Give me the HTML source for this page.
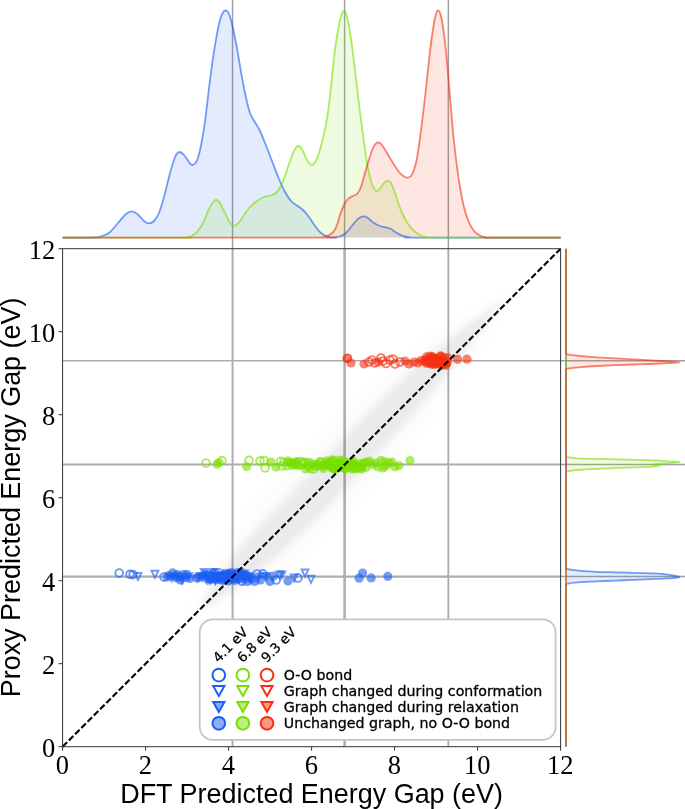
<!DOCTYPE html>
<html><head><meta charset="utf-8"><title>Energy gap parity plot</title><style>html,body{margin:0;padding:0;background:#fff}svg{display:block}</style></head><body>
<svg width="685" height="809" viewBox="0 0 685 809">
<defs><filter id="b1" x="-20%" y="-20%" width="140%" height="140%"><feGaussianBlur stdDeviation="7"/></filter><filter id="b2" x="-20%" y="-20%" width="140%" height="140%"><feGaussianBlur stdDeviation="3.3"/></filter>
<clipPath id="ax"><rect x="62.6" y="248.7" width="498.0" height="498.0"/></clipPath></defs>
<rect width="685" height="809" fill="#fff"/>
<line x1="232.55" y1="0" x2="232.55" y2="248.7" stroke="#a0a0a0" stroke-width="1.5"/>
<line x1="232.55" y1="248.7" x2="232.55" y2="746.7" stroke="#adadad" stroke-width="2.0"/>
<line x1="62.6" y1="576.55" x2="560.6" y2="576.55" stroke="#adadad" stroke-width="2.3"/>
<line x1="560.6" y1="576.55" x2="685" y2="576.55" stroke="#a0a0a0" stroke-width="1.5"/>
<line x1="344.60" y1="0" x2="344.60" y2="248.7" stroke="#a0a0a0" stroke-width="1.5"/>
<line x1="344.60" y1="248.7" x2="344.60" y2="746.7" stroke="#adadad" stroke-width="2.5"/>
<line x1="62.6" y1="464.50" x2="560.6" y2="464.50" stroke="#adadad" stroke-width="2.0"/>
<line x1="560.6" y1="464.50" x2="685" y2="464.50" stroke="#a0a0a0" stroke-width="1.5"/>
<line x1="448.35" y1="0" x2="448.35" y2="248.7" stroke="#a0a0a0" stroke-width="1.5"/>
<line x1="448.35" y1="248.7" x2="448.35" y2="746.7" stroke="#adadad" stroke-width="1.9"/>
<line x1="62.6" y1="360.75" x2="560.6" y2="360.75" stroke="#adadad" stroke-width="1.7"/>
<line x1="560.6" y1="360.75" x2="685" y2="360.75" stroke="#a0a0a0" stroke-width="1.5"/>
<path d="M62.6 237.6C67.2 237.6 84.4 237.6 90.0 237.6C95.6 237.6 94.3 237.5 96.0 237.3C97.7 237.2 98.7 237.0 100.0 236.7C101.3 236.4 102.3 236.2 104.0 235.4C105.7 234.6 107.7 234.1 110.0 232.0C112.3 229.9 115.3 226.0 118.0 223.0C120.7 220.0 123.7 215.9 126.0 214.0C128.3 212.1 130.0 211.3 132.0 211.4C134.0 211.5 136.0 213.0 138.0 214.6C140.0 216.2 142.2 219.5 144.0 221.0C145.8 222.5 147.3 223.4 149.0 223.4C150.7 223.4 152.3 222.7 154.0 221.0C155.7 219.3 157.3 217.0 159.0 213.0C160.7 209.0 162.3 203.0 164.0 197.0C165.7 191.0 167.5 182.7 169.0 177.0C170.5 171.3 171.8 166.7 173.0 163.0C174.2 159.3 174.9 156.8 176.0 155.0C177.1 153.2 178.3 152.0 179.6 152.0C180.9 152.0 182.4 153.3 184.0 155.0C185.6 156.7 187.6 160.3 189.0 162.0C190.4 163.7 191.1 165.2 192.4 165.0C193.7 164.8 195.6 163.8 197.0 160.5C198.4 157.2 199.7 152.0 201.0 145.5C202.3 139.0 203.7 131.1 205.0 121.5C206.3 111.9 207.7 98.6 209.0 88.0C210.3 77.4 211.7 67.0 213.0 58.0C214.3 49.0 215.8 40.3 217.0 34.0C218.2 27.7 219.0 23.6 220.0 20.0C221.0 16.4 222.0 14.0 223.0 12.4C224.0 10.8 225.0 10.1 226.0 10.4C227.0 10.7 228.0 11.7 229.0 14.0C230.0 16.3 231.0 20.0 232.0 24.0C233.0 28.0 234.0 33.0 235.0 38.0C236.0 43.0 237.0 48.3 238.0 54.0C239.0 59.7 240.0 66.3 241.0 72.0C242.0 77.7 243.0 83.0 244.0 88.0C245.0 93.0 246.0 97.8 247.0 102.0C248.0 106.2 248.8 109.8 250.0 113.0C251.2 116.2 252.8 118.5 254.5 121.5C256.2 124.5 258.1 127.0 260.0 131.0C261.9 135.0 264.0 140.5 266.0 145.5C268.0 150.5 269.8 155.4 272.0 161.0C274.2 166.6 276.8 173.8 279.0 179.0C281.2 184.2 283.0 188.3 285.0 192.0C287.0 195.7 289.0 198.7 291.0 201.0C293.0 203.3 295.0 204.1 297.0 205.6C299.0 207.1 301.0 208.1 303.0 210.0C305.0 211.9 307.0 214.3 309.0 217.0C311.0 219.7 313.0 223.3 315.0 226.0C317.0 228.7 319.0 231.3 321.0 233.0C323.0 234.7 324.8 235.7 327.0 236.4C329.2 237.1 331.8 237.3 334.0 237.3C336.2 237.3 338.0 237.1 340.0 236.4C342.0 235.7 344.2 234.6 346.0 233.0C347.8 231.4 349.3 229.0 351.0 227.0C352.7 225.0 354.5 222.6 356.0 221.0C357.5 219.4 358.7 218.4 360.0 217.6C361.3 216.8 362.7 216.3 364.0 216.4C365.3 216.5 366.3 216.9 368.0 218.0C369.7 219.1 372.0 221.7 374.0 223.0C376.0 224.3 377.8 225.2 380.0 226.0C382.2 226.8 385.2 227.1 387.0 227.6C388.8 228.1 389.5 228.2 391.0 229.0C392.5 229.8 394.2 231.3 396.0 232.4C397.8 233.5 399.7 234.8 402.0 235.6C404.3 236.4 407.3 236.9 410.0 237.2C412.7 237.5 392.9 237.5 418.0 237.6C443.1 237.7 536.8 237.6 560.6 237.6Z" fill="#1a5ef2" fill-opacity="0.12" stroke="none"/>
<path d="M62.6 237.6C82.2 237.6 159.4 237.6 180.0 237.6C200.6 237.6 184.3 237.6 186.0 237.4C187.7 237.2 188.8 237.0 190.0 236.6C191.2 236.2 191.8 235.8 193.0 235.0C194.2 234.2 195.3 234.0 197.0 232.0C198.7 230.0 201.0 226.8 203.0 223.0C205.0 219.2 207.3 212.5 209.0 209.0C210.7 205.5 211.7 203.5 213.0 202.0C214.3 200.5 215.4 199.8 216.6 200.0C217.8 200.2 218.6 200.8 220.0 203.0C221.4 205.2 223.3 209.7 225.0 213.0C226.7 216.3 228.5 220.9 230.0 223.0C231.5 225.1 232.7 225.5 234.0 225.6C235.3 225.7 236.3 225.4 238.0 223.6C239.7 221.8 242.0 217.8 244.0 215.0C246.0 212.2 247.8 209.3 250.0 207.0C252.2 204.7 254.7 202.7 257.0 201.0C259.3 199.3 261.7 197.9 264.0 197.0C266.3 196.1 269.0 196.1 271.0 195.4C273.0 194.7 274.3 194.6 276.0 193.0C277.7 191.4 279.3 189.3 281.0 186.0C282.7 182.7 284.3 177.7 286.0 173.0C287.7 168.3 289.5 162.0 291.0 158.0C292.5 154.0 293.8 151.0 295.0 149.0C296.2 147.0 297.2 146.0 298.4 146.0C299.6 146.0 300.6 146.7 302.0 149.0C303.4 151.3 305.3 157.3 307.0 160.0C308.7 162.7 310.3 165.2 312.0 165.0C313.7 164.8 315.5 161.7 317.0 158.5C318.5 155.3 319.7 150.9 321.0 146.0C322.3 141.1 323.8 134.7 325.0 129.0C326.2 123.3 327.0 119.0 328.0 112.0C329.0 105.0 330.0 96.0 331.0 87.0C332.0 78.0 333.0 66.5 334.0 58.0C335.0 49.5 336.0 42.3 337.0 36.0C338.0 29.7 339.1 23.9 340.0 20.0C340.9 16.1 341.7 13.9 342.4 12.4C343.1 10.9 343.4 10.9 344.0 11.0C344.6 11.1 345.2 10.5 346.0 13.0C346.8 15.5 348.0 20.5 349.0 26.0C350.0 31.5 351.0 38.7 352.0 46.0C353.0 53.3 354.0 61.7 355.0 70.0C356.0 78.3 357.0 87.7 358.0 96.0C359.0 104.3 360.0 112.3 361.0 120.0C362.0 127.7 363.2 135.8 364.0 142.0C364.8 148.2 365.2 151.8 366.0 157.0C366.8 162.2 368.0 168.5 369.0 173.0C370.0 177.5 371.0 181.2 372.0 184.0C373.0 186.8 374.2 188.8 375.0 190.0C375.8 191.2 376.2 191.2 377.0 191.0C377.8 190.8 378.8 189.9 380.0 188.6C381.2 187.3 382.7 184.3 384.0 183.0C385.3 181.7 386.4 180.6 387.6 180.6C388.8 180.6 389.8 180.9 391.0 183.0C392.2 185.1 393.7 189.3 395.0 193.0C396.3 196.7 397.7 201.3 399.0 205.0C400.3 208.7 401.5 211.8 403.0 215.0C404.5 218.2 406.2 221.3 408.0 224.0C409.8 226.7 412.0 229.2 414.0 231.0C416.0 232.8 418.0 234.0 420.0 235.0C422.0 236.0 423.7 236.6 426.0 237.0C428.3 237.4 411.6 237.5 434.0 237.6C456.4 237.7 539.5 237.6 560.6 237.6Z" fill="#78e000" fill-opacity="0.12" stroke="none"/>
<path d="M62.6 237.6C104.8 237.6 272.8 237.6 316.0 237.6C359.2 237.6 320.3 237.6 322.0 237.4C323.7 237.2 324.7 237.0 326.0 236.5C327.3 236.0 328.7 235.4 330.0 234.5C331.3 233.6 332.8 232.6 334.0 231.0C335.2 229.4 336.0 227.7 337.0 225.0C338.0 222.3 338.8 218.3 340.0 215.0C341.2 211.7 342.7 207.7 344.0 205.0C345.3 202.3 346.7 200.4 348.0 199.0C349.3 197.6 350.5 197.2 352.0 196.4C353.5 195.6 355.5 195.6 357.0 194.0C358.5 192.4 359.7 190.5 361.0 187.0C362.3 183.5 363.7 177.6 365.0 173.0C366.3 168.4 367.7 163.7 369.0 159.5C370.3 155.3 371.8 150.7 373.0 148.0C374.2 145.3 375.1 144.5 376.0 143.6C376.9 142.7 377.4 142.3 378.4 142.5C379.4 142.7 380.6 143.2 382.0 145.0C383.4 146.8 385.2 150.0 387.0 153.0C388.8 156.0 391.0 159.8 393.0 163.0C395.0 166.2 397.2 169.7 399.0 172.0C400.8 174.3 402.6 175.7 404.0 176.6C405.4 177.5 406.4 177.7 407.6 177.6C408.8 177.5 409.9 177.3 411.0 176.0C412.1 174.7 413.0 173.0 414.0 170.0C415.0 167.0 416.0 163.3 417.0 158.0C418.0 152.7 419.0 145.2 420.0 138.0C421.0 130.8 422.0 122.8 423.0 114.5C424.0 106.2 425.0 97.6 426.0 88.5C427.0 79.4 428.0 68.8 429.0 60.0C430.0 51.2 431.0 43.0 432.0 36.0C433.0 29.0 434.0 22.3 435.0 18.0C436.0 13.7 437.0 10.7 438.0 10.4C439.0 10.1 440.0 12.1 441.0 16.0C442.0 19.9 443.0 26.3 444.0 34.0C445.0 41.7 446.0 51.5 447.0 62.0C448.0 72.5 449.0 85.3 450.0 97.0C451.0 108.7 452.0 121.7 453.0 132.0C454.0 142.3 455.0 150.8 456.0 159.0C457.0 167.2 458.0 174.5 459.0 181.0C460.0 187.5 461.0 193.0 462.0 198.0C463.0 203.0 464.0 207.3 465.0 211.0C466.0 214.7 467.0 217.4 468.0 220.0C469.0 222.6 469.8 224.5 471.0 226.5C472.2 228.5 473.5 230.5 475.0 232.0C476.5 233.5 478.3 234.8 480.0 235.6C481.7 236.4 483.0 236.8 485.0 237.1C487.0 237.4 479.4 237.5 492.0 237.6C504.6 237.7 549.2 237.6 560.6 237.6Z" fill="#f73010" fill-opacity="0.12" stroke="none"/>
<path d="M62.6 237.6C67.2 237.6 84.4 237.6 90.0 237.6C95.6 237.6 94.3 237.5 96.0 237.3C97.7 237.2 98.7 237.0 100.0 236.7C101.3 236.4 102.3 236.2 104.0 235.4C105.7 234.6 107.7 234.1 110.0 232.0C112.3 229.9 115.3 226.0 118.0 223.0C120.7 220.0 123.7 215.9 126.0 214.0C128.3 212.1 130.0 211.3 132.0 211.4C134.0 211.5 136.0 213.0 138.0 214.6C140.0 216.2 142.2 219.5 144.0 221.0C145.8 222.5 147.3 223.4 149.0 223.4C150.7 223.4 152.3 222.7 154.0 221.0C155.7 219.3 157.3 217.0 159.0 213.0C160.7 209.0 162.3 203.0 164.0 197.0C165.7 191.0 167.5 182.7 169.0 177.0C170.5 171.3 171.8 166.7 173.0 163.0C174.2 159.3 174.9 156.8 176.0 155.0C177.1 153.2 178.3 152.0 179.6 152.0C180.9 152.0 182.4 153.3 184.0 155.0C185.6 156.7 187.6 160.3 189.0 162.0C190.4 163.7 191.1 165.2 192.4 165.0C193.7 164.8 195.6 163.8 197.0 160.5C198.4 157.2 199.7 152.0 201.0 145.5C202.3 139.0 203.7 131.1 205.0 121.5C206.3 111.9 207.7 98.6 209.0 88.0C210.3 77.4 211.7 67.0 213.0 58.0C214.3 49.0 215.8 40.3 217.0 34.0C218.2 27.7 219.0 23.6 220.0 20.0C221.0 16.4 222.0 14.0 223.0 12.4C224.0 10.8 225.0 10.1 226.0 10.4C227.0 10.7 228.0 11.7 229.0 14.0C230.0 16.3 231.0 20.0 232.0 24.0C233.0 28.0 234.0 33.0 235.0 38.0C236.0 43.0 237.0 48.3 238.0 54.0C239.0 59.7 240.0 66.3 241.0 72.0C242.0 77.7 243.0 83.0 244.0 88.0C245.0 93.0 246.0 97.8 247.0 102.0C248.0 106.2 248.8 109.8 250.0 113.0C251.2 116.2 252.8 118.5 254.5 121.5C256.2 124.5 258.1 127.0 260.0 131.0C261.9 135.0 264.0 140.5 266.0 145.5C268.0 150.5 269.8 155.4 272.0 161.0C274.2 166.6 276.8 173.8 279.0 179.0C281.2 184.2 283.0 188.3 285.0 192.0C287.0 195.7 289.0 198.7 291.0 201.0C293.0 203.3 295.0 204.1 297.0 205.6C299.0 207.1 301.0 208.1 303.0 210.0C305.0 211.9 307.0 214.3 309.0 217.0C311.0 219.7 313.0 223.3 315.0 226.0C317.0 228.7 319.0 231.3 321.0 233.0C323.0 234.7 324.8 235.7 327.0 236.4C329.2 237.1 331.8 237.3 334.0 237.3C336.2 237.3 338.0 237.1 340.0 236.4C342.0 235.7 344.2 234.6 346.0 233.0C347.8 231.4 349.3 229.0 351.0 227.0C352.7 225.0 354.5 222.6 356.0 221.0C357.5 219.4 358.7 218.4 360.0 217.6C361.3 216.8 362.7 216.3 364.0 216.4C365.3 216.5 366.3 216.9 368.0 218.0C369.7 219.1 372.0 221.7 374.0 223.0C376.0 224.3 377.8 225.2 380.0 226.0C382.2 226.8 385.2 227.1 387.0 227.6C388.8 228.1 389.5 228.2 391.0 229.0C392.5 229.8 394.2 231.3 396.0 232.4C397.8 233.5 399.7 234.8 402.0 235.6C404.3 236.4 407.3 236.9 410.0 237.2C412.7 237.5 392.9 237.5 418.0 237.6C443.1 237.7 536.8 237.6 560.6 237.6" fill="none" stroke="#1a5ef2" stroke-opacity="0.60" stroke-width="1.8" stroke-linejoin="round"/>
<path d="M62.6 237.6C82.2 237.6 159.4 237.6 180.0 237.6C200.6 237.6 184.3 237.6 186.0 237.4C187.7 237.2 188.8 237.0 190.0 236.6C191.2 236.2 191.8 235.8 193.0 235.0C194.2 234.2 195.3 234.0 197.0 232.0C198.7 230.0 201.0 226.8 203.0 223.0C205.0 219.2 207.3 212.5 209.0 209.0C210.7 205.5 211.7 203.5 213.0 202.0C214.3 200.5 215.4 199.8 216.6 200.0C217.8 200.2 218.6 200.8 220.0 203.0C221.4 205.2 223.3 209.7 225.0 213.0C226.7 216.3 228.5 220.9 230.0 223.0C231.5 225.1 232.7 225.5 234.0 225.6C235.3 225.7 236.3 225.4 238.0 223.6C239.7 221.8 242.0 217.8 244.0 215.0C246.0 212.2 247.8 209.3 250.0 207.0C252.2 204.7 254.7 202.7 257.0 201.0C259.3 199.3 261.7 197.9 264.0 197.0C266.3 196.1 269.0 196.1 271.0 195.4C273.0 194.7 274.3 194.6 276.0 193.0C277.7 191.4 279.3 189.3 281.0 186.0C282.7 182.7 284.3 177.7 286.0 173.0C287.7 168.3 289.5 162.0 291.0 158.0C292.5 154.0 293.8 151.0 295.0 149.0C296.2 147.0 297.2 146.0 298.4 146.0C299.6 146.0 300.6 146.7 302.0 149.0C303.4 151.3 305.3 157.3 307.0 160.0C308.7 162.7 310.3 165.2 312.0 165.0C313.7 164.8 315.5 161.7 317.0 158.5C318.5 155.3 319.7 150.9 321.0 146.0C322.3 141.1 323.8 134.7 325.0 129.0C326.2 123.3 327.0 119.0 328.0 112.0C329.0 105.0 330.0 96.0 331.0 87.0C332.0 78.0 333.0 66.5 334.0 58.0C335.0 49.5 336.0 42.3 337.0 36.0C338.0 29.7 339.1 23.9 340.0 20.0C340.9 16.1 341.7 13.9 342.4 12.4C343.1 10.9 343.4 10.9 344.0 11.0C344.6 11.1 345.2 10.5 346.0 13.0C346.8 15.5 348.0 20.5 349.0 26.0C350.0 31.5 351.0 38.7 352.0 46.0C353.0 53.3 354.0 61.7 355.0 70.0C356.0 78.3 357.0 87.7 358.0 96.0C359.0 104.3 360.0 112.3 361.0 120.0C362.0 127.7 363.2 135.8 364.0 142.0C364.8 148.2 365.2 151.8 366.0 157.0C366.8 162.2 368.0 168.5 369.0 173.0C370.0 177.5 371.0 181.2 372.0 184.0C373.0 186.8 374.2 188.8 375.0 190.0C375.8 191.2 376.2 191.2 377.0 191.0C377.8 190.8 378.8 189.9 380.0 188.6C381.2 187.3 382.7 184.3 384.0 183.0C385.3 181.7 386.4 180.6 387.6 180.6C388.8 180.6 389.8 180.9 391.0 183.0C392.2 185.1 393.7 189.3 395.0 193.0C396.3 196.7 397.7 201.3 399.0 205.0C400.3 208.7 401.5 211.8 403.0 215.0C404.5 218.2 406.2 221.3 408.0 224.0C409.8 226.7 412.0 229.2 414.0 231.0C416.0 232.8 418.0 234.0 420.0 235.0C422.0 236.0 423.7 236.6 426.0 237.0C428.3 237.4 411.6 237.5 434.0 237.6C456.4 237.7 539.5 237.6 560.6 237.6" fill="none" stroke="#78e000" stroke-opacity="0.60" stroke-width="1.8" stroke-linejoin="round"/>
<path d="M62.6 237.6C104.8 237.6 272.8 237.6 316.0 237.6C359.2 237.6 320.3 237.6 322.0 237.4C323.7 237.2 324.7 237.0 326.0 236.5C327.3 236.0 328.7 235.4 330.0 234.5C331.3 233.6 332.8 232.6 334.0 231.0C335.2 229.4 336.0 227.7 337.0 225.0C338.0 222.3 338.8 218.3 340.0 215.0C341.2 211.7 342.7 207.7 344.0 205.0C345.3 202.3 346.7 200.4 348.0 199.0C349.3 197.6 350.5 197.2 352.0 196.4C353.5 195.6 355.5 195.6 357.0 194.0C358.5 192.4 359.7 190.5 361.0 187.0C362.3 183.5 363.7 177.6 365.0 173.0C366.3 168.4 367.7 163.7 369.0 159.5C370.3 155.3 371.8 150.7 373.0 148.0C374.2 145.3 375.1 144.5 376.0 143.6C376.9 142.7 377.4 142.3 378.4 142.5C379.4 142.7 380.6 143.2 382.0 145.0C383.4 146.8 385.2 150.0 387.0 153.0C388.8 156.0 391.0 159.8 393.0 163.0C395.0 166.2 397.2 169.7 399.0 172.0C400.8 174.3 402.6 175.7 404.0 176.6C405.4 177.5 406.4 177.7 407.6 177.6C408.8 177.5 409.9 177.3 411.0 176.0C412.1 174.7 413.0 173.0 414.0 170.0C415.0 167.0 416.0 163.3 417.0 158.0C418.0 152.7 419.0 145.2 420.0 138.0C421.0 130.8 422.0 122.8 423.0 114.5C424.0 106.2 425.0 97.6 426.0 88.5C427.0 79.4 428.0 68.8 429.0 60.0C430.0 51.2 431.0 43.0 432.0 36.0C433.0 29.0 434.0 22.3 435.0 18.0C436.0 13.7 437.0 10.7 438.0 10.4C439.0 10.1 440.0 12.1 441.0 16.0C442.0 19.9 443.0 26.3 444.0 34.0C445.0 41.7 446.0 51.5 447.0 62.0C448.0 72.5 449.0 85.3 450.0 97.0C451.0 108.7 452.0 121.7 453.0 132.0C454.0 142.3 455.0 150.8 456.0 159.0C457.0 167.2 458.0 174.5 459.0 181.0C460.0 187.5 461.0 193.0 462.0 198.0C463.0 203.0 464.0 207.3 465.0 211.0C466.0 214.7 467.0 217.4 468.0 220.0C469.0 222.6 469.8 224.5 471.0 226.5C472.2 228.5 473.5 230.5 475.0 232.0C476.5 233.5 478.3 234.8 480.0 235.6C481.7 236.4 483.0 236.8 485.0 237.1C487.0 237.4 479.4 237.5 492.0 237.6C504.6 237.7 549.2 237.6 560.6 237.6" fill="none" stroke="#f73010" stroke-opacity="0.60" stroke-width="1.8" stroke-linejoin="round"/>
<path d="M566.0 746.7 L566.0 589.6C566.0 588.8 565.8 585.6 566.0 584.6C566.2 583.6 565.5 584.0 567.5 583.6C569.5 583.2 573.4 582.7 578.2 582.3C583.0 581.9 590.4 581.7 596.5 581.4C602.6 581.1 608.6 580.9 614.7 580.6C620.8 580.4 626.9 580.1 633.0 579.9C639.1 579.7 646.0 579.4 651.2 579.2C656.4 579.0 660.4 578.8 664.0 578.6C667.6 578.4 670.4 578.3 673.0 578.1C675.6 577.9 679.6 577.7 679.6 577.3C679.6 576.9 675.7 576.0 673.1 575.5C670.5 575.0 667.6 574.6 664.0 574.2C660.4 573.8 656.4 573.5 651.2 573.3C646.0 573.1 639.1 572.9 633.0 572.8C626.9 572.6 620.8 572.5 614.7 572.4C608.6 572.2 602.6 572.2 596.5 571.9C590.4 571.6 583.0 571.0 578.2 570.6C573.4 570.2 569.5 569.6 567.5 569.2C565.5 568.8 566.2 569.2 566.0 568.2C565.8 567.2 566.0 564.0 566.0 563.2L566.0 248.7Z" fill="#1a5ef2" fill-opacity="0.12" stroke="none"/>
<path d="M566.0 746.7 L566.0 477.4C566.0 476.6 565.8 473.4 566.0 472.4C566.2 471.4 565.5 471.7 567.5 471.3C569.5 470.9 573.2 470.4 578.0 470.0C582.8 469.6 587.3 469.3 596.5 468.9C605.7 468.5 623.9 467.8 633.0 467.4C642.1 467.0 646.8 467.0 651.2 466.7C655.6 466.4 658.6 465.9 659.5 465.6C660.4 465.3 657.4 465.1 656.5 464.9C655.6 464.7 652.5 464.6 654.0 464.3C655.5 464.0 661.5 463.7 665.8 463.3C670.0 462.9 680.5 462.4 679.5 462.0C678.5 461.6 667.8 461.1 660.0 460.7C652.2 460.3 643.6 460.1 633.0 459.8C622.4 459.5 605.7 459.1 596.5 458.9C587.3 458.6 582.8 458.6 578.0 458.3C573.2 458.0 569.5 457.5 567.5 457.1C565.5 456.7 566.2 457.0 566.0 456.0C565.8 455.0 566.0 451.8 566.0 451.0L566.0 248.7Z" fill="#78e000" fill-opacity="0.12" stroke="none"/>
<path d="M566.0 746.7 L566.0 374.6C566.0 373.8 565.8 370.6 566.0 369.6C566.2 368.6 566.0 368.9 567.5 368.6C569.0 368.3 570.2 368.0 575.0 367.6C579.8 367.2 586.8 366.5 596.5 366.0C606.2 365.5 622.4 364.9 633.0 364.5C643.6 364.1 652.2 363.9 660.0 363.5C667.8 363.1 679.5 362.8 679.5 362.4C679.5 361.9 667.8 361.3 660.0 360.8C652.2 360.3 643.6 359.9 633.0 359.3C622.4 358.7 606.2 358.0 596.5 357.4C586.8 356.8 579.8 355.9 575.0 355.4C570.2 354.9 569.0 354.8 567.5 354.4C566.0 354.0 566.2 354.2 566.0 353.2C565.8 352.2 566.0 349.0 566.0 348.2L566.0 248.7Z" fill="#f73010" fill-opacity="0.12" stroke="none"/>
<path d="M566.0 746.7 L566.0 589.6C566.0 588.8 565.8 585.6 566.0 584.6C566.2 583.6 565.5 584.0 567.5 583.6C569.5 583.2 573.4 582.7 578.2 582.3C583.0 581.9 590.4 581.7 596.5 581.4C602.6 581.1 608.6 580.9 614.7 580.6C620.8 580.4 626.9 580.1 633.0 579.9C639.1 579.7 646.0 579.4 651.2 579.2C656.4 579.0 660.4 578.8 664.0 578.6C667.6 578.4 670.4 578.3 673.0 578.1C675.6 577.9 679.6 577.7 679.6 577.3C679.6 576.9 675.7 576.0 673.1 575.5C670.5 575.0 667.6 574.6 664.0 574.2C660.4 573.8 656.4 573.5 651.2 573.3C646.0 573.1 639.1 572.9 633.0 572.8C626.9 572.6 620.8 572.5 614.7 572.4C608.6 572.2 602.6 572.2 596.5 571.9C590.4 571.6 583.0 571.0 578.2 570.6C573.4 570.2 569.5 569.6 567.5 569.2C565.5 568.8 566.2 569.2 566.0 568.2C565.8 567.2 566.0 564.0 566.0 563.2L566.0 248.7" fill="none" stroke="#1a5ef2" stroke-opacity="0.60" stroke-width="1.8" stroke-linejoin="round"/>
<path d="M566.0 746.7 L566.0 477.4C566.0 476.6 565.8 473.4 566.0 472.4C566.2 471.4 565.5 471.7 567.5 471.3C569.5 470.9 573.2 470.4 578.0 470.0C582.8 469.6 587.3 469.3 596.5 468.9C605.7 468.5 623.9 467.8 633.0 467.4C642.1 467.0 646.8 467.0 651.2 466.7C655.6 466.4 658.6 465.9 659.5 465.6C660.4 465.3 657.4 465.1 656.5 464.9C655.6 464.7 652.5 464.6 654.0 464.3C655.5 464.0 661.5 463.7 665.8 463.3C670.0 462.9 680.5 462.4 679.5 462.0C678.5 461.6 667.8 461.1 660.0 460.7C652.2 460.3 643.6 460.1 633.0 459.8C622.4 459.5 605.7 459.1 596.5 458.9C587.3 458.6 582.8 458.6 578.0 458.3C573.2 458.0 569.5 457.5 567.5 457.1C565.5 456.7 566.2 457.0 566.0 456.0C565.8 455.0 566.0 451.8 566.0 451.0L566.0 248.7" fill="none" stroke="#78e000" stroke-opacity="0.60" stroke-width="1.8" stroke-linejoin="round"/>
<path d="M566.0 746.7 L566.0 374.6C566.0 373.8 565.8 370.6 566.0 369.6C566.2 368.6 566.0 368.9 567.5 368.6C569.0 368.3 570.2 368.0 575.0 367.6C579.8 367.2 586.8 366.5 596.5 366.0C606.2 365.5 622.4 364.9 633.0 364.5C643.6 364.1 652.2 363.9 660.0 363.5C667.8 363.1 679.5 362.8 679.5 362.4C679.5 361.9 667.8 361.3 660.0 360.8C652.2 360.3 643.6 359.9 633.0 359.3C622.4 358.7 606.2 358.0 596.5 357.4C586.8 356.8 579.8 355.9 575.0 355.4C570.2 354.9 569.0 354.8 567.5 354.4C566.0 354.0 566.2 354.2 566.0 353.2C565.8 352.2 566.0 349.0 566.0 348.2L566.0 248.7" fill="none" stroke="#f73010" stroke-opacity="0.60" stroke-width="1.8" stroke-linejoin="round"/>
<g clip-path="url(#ax)">
<path d="M187.1 622.2C190.5 615.9 201.7 595.3 207.2 584.2C212.8 573.2 213.8 567.3 220.6 556.1C227.3 544.8 236.6 530.6 247.8 516.9C259.0 503.2 274.4 488.2 287.8 473.9C301.3 459.7 314.6 445.3 328.3 431.4C342.0 417.4 355.7 403.5 370.2 390.3C384.7 377.1 401.8 362.4 415.1 352.2C428.4 342.0 439.1 336.1 450.1 329.1C461.1 322.1 470.0 317.1 480.9 310.1C491.9 303.1 510.1 290.9 515.9 287.0C521.7 283.2 519.8 281.2 515.9 287.0C512.1 292.8 499.8 311.0 492.8 322.0C485.8 333.0 480.9 341.9 473.8 352.8C466.8 363.8 460.6 374.2 450.7 387.8C440.9 401.5 427.2 419.7 414.8 434.9C402.3 450.0 389.0 464.5 375.8 478.9C362.6 493.3 349.3 507.7 335.4 521.5C321.5 535.2 306.1 550.3 292.4 561.5C278.7 572.7 264.5 582.0 253.2 588.7C242.0 595.5 236.1 596.5 225.1 602.1C214.0 607.6 193.4 618.8 187.1 622.2C180.8 625.6 187.1 622.2 187.1 622.2Z" fill="#000" fill-opacity="0.014" filter="url(#b1)"/>
<path d="M199.5 609.8C201.5 606.2 206.6 596.1 211.4 588.4C216.2 580.7 220.4 573.9 228.2 563.7C236.0 553.5 246.4 540.4 258.2 527.3C270.0 514.2 285.4 499.2 298.9 485.0C312.5 470.9 325.8 456.5 339.4 442.5C353.0 428.4 366.6 414.4 380.6 400.7C394.6 387.0 410.9 371.5 423.4 360.5C435.9 349.5 445.6 342.6 455.6 334.6C465.7 326.7 475.7 318.8 483.7 312.9C491.7 307.0 500.2 301.7 503.5 299.5C506.8 297.2 505.7 296.2 503.5 299.5C501.2 302.8 495.9 311.3 490.0 319.2C484.2 327.2 476.2 337.3 468.3 347.3C460.4 357.4 453.1 366.7 442.4 379.5C431.8 392.4 417.3 409.7 404.4 424.5C391.4 439.2 378.1 453.5 364.7 467.8C351.4 482.1 338.1 496.5 324.3 510.4C310.5 524.2 295.1 539.3 282.0 551.1C268.9 562.9 255.8 573.3 245.6 581.1C235.4 588.9 228.6 593.1 220.9 597.9C213.2 602.7 203.1 607.8 199.5 609.8C196.0 611.7 199.5 609.8 199.5 609.8Z" fill="#000" fill-opacity="0.064" filter="url(#b2)"/>
</g>
<g clip-path="url(#ax)">
<circle cx="119.2" cy="573.0" r="3.85" fill="none" stroke="#1a5ef2" stroke-width="1.9" stroke-opacity="0.64"/>
<circle cx="130.0" cy="574.4" r="3.85" fill="none" stroke="#1a5ef2" stroke-width="1.9" stroke-opacity="0.64"/>
<circle cx="133.0" cy="574.6" r="3.85" fill="none" stroke="#1a5ef2" stroke-width="1.9" stroke-opacity="0.64"/>
<polygon points="134.6,573.0 141.4,573.0 138.0,580.0" fill="none" stroke="#1a5ef2" stroke-width="1.9" stroke-opacity="0.64"/>
<polygon points="151.5,570.8 158.3,570.8 154.9,577.8" fill="none" stroke="#1a5ef2" stroke-width="1.9" stroke-opacity="0.64"/>
<circle cx="164.0" cy="577.0" r="3.85" fill="none" stroke="#1a5ef2" stroke-width="1.9" stroke-opacity="0.64"/>
<polygon points="277.1,570.6 286.9,570.6 282.0,580.5" fill="#1a5ef2" fill-opacity="0.6"/>
<circle cx="288.0" cy="581.0" r="4.6" fill="#1a5ef2" fill-opacity="0.6"/>
<polygon points="290.6,574.5 297.4,574.5 294.0,581.5" fill="none" stroke="#1a5ef2" stroke-width="1.9" stroke-opacity="0.64"/>
<circle cx="298.0" cy="578.0" r="3.85" fill="none" stroke="#1a5ef2" stroke-width="1.9" stroke-opacity="0.64"/>
<polygon points="301.6,569.5 308.4,569.5 305.0,576.5" fill="none" stroke="#1a5ef2" stroke-width="1.9" stroke-opacity="0.64"/>
<polygon points="307.6,575.8 314.4,575.8 311.0,582.8" fill="none" stroke="#1a5ef2" stroke-width="1.9" stroke-opacity="0.64"/>
<circle cx="359.1" cy="578.2" r="4.6" fill="#1a5ef2" fill-opacity="0.6"/>
<circle cx="362.6" cy="573.1" r="4.6" fill="#1a5ef2" fill-opacity="0.6"/>
<circle cx="371.2" cy="577.9" r="4.6" fill="#1a5ef2" fill-opacity="0.6"/>
<circle cx="387.8" cy="576.4" r="4.6" fill="#1a5ef2" fill-opacity="0.6"/>
<circle cx="176.1" cy="577.7" r="4.6" fill="#1a5ef2" fill-opacity="0.6"/>
<polygon points="166.6,573.5 176.4,573.5 171.5,583.4" fill="#1a5ef2" fill-opacity="0.6"/>
<circle cx="189.7" cy="578.4" r="4.6" fill="#1a5ef2" fill-opacity="0.6"/>
<circle cx="180.3" cy="580.1" r="4.6" fill="#1a5ef2" fill-opacity="0.6"/>
<circle cx="174.8" cy="575.9" r="4.6" fill="#1a5ef2" fill-opacity="0.6"/>
<circle cx="179.3" cy="576.6" r="4.6" fill="#1a5ef2" fill-opacity="0.6"/>
<circle cx="168.9" cy="575.6" r="4.6" fill="#1a5ef2" fill-opacity="0.6"/>
<circle cx="186.8" cy="574.3" r="4.6" fill="#1a5ef2" fill-opacity="0.6"/>
<circle cx="177.3" cy="574.7" r="4.6" fill="#1a5ef2" fill-opacity="0.6"/>
<circle cx="184.8" cy="577.5" r="4.6" fill="#1a5ef2" fill-opacity="0.6"/>
<circle cx="166.9" cy="577.0" r="4.6" fill="#1a5ef2" fill-opacity="0.6"/>
<polygon points="177.3,576.0 187.1,576.0 182.2,585.9" fill="#1a5ef2" fill-opacity="0.6"/>
<polygon points="184.0,572.2 193.8,572.2 188.9,582.1" fill="#1a5ef2" fill-opacity="0.6"/>
<circle cx="183.3" cy="574.6" r="4.6" fill="#1a5ef2" fill-opacity="0.6"/>
<circle cx="172.6" cy="572.9" r="4.6" fill="#1a5ef2" fill-opacity="0.6"/>
<circle cx="238.9" cy="579.1" r="4.6" fill="#1a5ef2" fill-opacity="0.6"/>
<polygon points="225.8,569.9 235.6,569.9 230.7,579.8" fill="#1a5ef2" fill-opacity="0.6"/>
<polygon points="219.5,570.8 229.3,570.8 224.4,580.7" fill="#1a5ef2" fill-opacity="0.6"/>
<circle cx="234.2" cy="574.3" r="3.85" fill="none" stroke="#1a5ef2" stroke-width="1.9" stroke-opacity="0.64"/>
<circle cx="227.7" cy="575.1" r="4.6" fill="#1a5ef2" fill-opacity="0.6"/>
<polygon points="211.2,572.9 218.0,572.9 214.6,579.8" fill="none" stroke="#1a5ef2" stroke-width="1.9" stroke-opacity="0.64"/>
<polygon points="194.8,572.3 204.6,572.3 199.7,582.2" fill="#1a5ef2" fill-opacity="0.6"/>
<circle cx="223.9" cy="580.4" r="4.6" fill="#1a5ef2" fill-opacity="0.6"/>
<circle cx="220.7" cy="579.6" r="3.85" fill="none" stroke="#1a5ef2" stroke-width="1.9" stroke-opacity="0.64"/>
<circle cx="226.5" cy="578.7" r="4.6" fill="#1a5ef2" fill-opacity="0.6"/>
<circle cx="247.6" cy="581.4" r="4.6" fill="#1a5ef2" fill-opacity="0.6"/>
<circle cx="237.8" cy="572.4" r="4.6" fill="#1a5ef2" fill-opacity="0.6"/>
<polygon points="196.1,572.4 205.9,572.4 201.0,582.3" fill="#1a5ef2" fill-opacity="0.6"/>
<polygon points="197.2,572.9 207.0,572.9 202.1,582.8" fill="#1a5ef2" fill-opacity="0.6"/>
<polygon points="220.0,572.6 226.8,572.6 223.4,579.5" fill="none" stroke="#1a5ef2" stroke-width="1.9" stroke-opacity="0.64"/>
<polygon points="201.3,569.9 211.1,569.9 206.2,579.8" fill="#1a5ef2" fill-opacity="0.6"/>
<polygon points="209.5,569.2 216.3,569.2 212.9,576.1" fill="none" stroke="#1a5ef2" stroke-width="1.9" stroke-opacity="0.64"/>
<circle cx="196.7" cy="577.9" r="4.6" fill="#1a5ef2" fill-opacity="0.6"/>
<polygon points="203.9,571.5 213.7,571.5 208.8,581.4" fill="#1a5ef2" fill-opacity="0.6"/>
<polygon points="238.0,575.7 247.8,575.7 242.9,585.6" fill="#1a5ef2" fill-opacity="0.6"/>
<polygon points="220.4,569.1 230.2,569.1 225.3,579.0" fill="#1a5ef2" fill-opacity="0.6"/>
<polygon points="244.3,573.3 254.1,573.3 249.2,583.2" fill="#1a5ef2" fill-opacity="0.6"/>
<circle cx="218.5" cy="578.1" r="4.6" fill="#1a5ef2" fill-opacity="0.6"/>
<polygon points="204.7,576.2 214.5,576.2 209.6,586.1" fill="#1a5ef2" fill-opacity="0.6"/>
<polygon points="200.4,574.0 210.2,574.0 205.3,583.9" fill="#1a5ef2" fill-opacity="0.6"/>
<circle cx="219.3" cy="577.8" r="4.6" fill="#1a5ef2" fill-opacity="0.6"/>
<circle cx="241.4" cy="572.4" r="4.6" fill="#1a5ef2" fill-opacity="0.6"/>
<polygon points="212.1,573.6 221.9,573.6 217.0,583.5" fill="#1a5ef2" fill-opacity="0.6"/>
<circle cx="219.6" cy="577.2" r="4.6" fill="#1a5ef2" fill-opacity="0.6"/>
<circle cx="217.4" cy="577.6" r="4.6" fill="#1a5ef2" fill-opacity="0.6"/>
<circle cx="227.0" cy="576.2" r="3.85" fill="none" stroke="#1a5ef2" stroke-width="1.9" stroke-opacity="0.64"/>
<circle cx="222.8" cy="575.4" r="4.6" fill="#1a5ef2" fill-opacity="0.6"/>
<polygon points="238.7,571.3 248.5,571.3 243.6,581.2" fill="#1a5ef2" fill-opacity="0.6"/>
<circle cx="245.8" cy="578.0" r="4.6" fill="#1a5ef2" fill-opacity="0.6"/>
<polygon points="239.5,569.4 249.3,569.4 244.4,579.3" fill="#1a5ef2" fill-opacity="0.6"/>
<circle cx="242.1" cy="581.3" r="3.85" fill="none" stroke="#1a5ef2" stroke-width="1.9" stroke-opacity="0.64"/>
<polygon points="212.5,569.0 219.3,569.0 215.9,575.9" fill="none" stroke="#1a5ef2" stroke-width="1.9" stroke-opacity="0.64"/>
<circle cx="232.5" cy="577.7" r="4.6" fill="#1a5ef2" fill-opacity="0.6"/>
<circle cx="229.9" cy="579.7" r="4.6" fill="#1a5ef2" fill-opacity="0.6"/>
<circle cx="241.0" cy="575.2" r="4.6" fill="#1a5ef2" fill-opacity="0.6"/>
<circle cx="234.8" cy="580.5" r="4.6" fill="#1a5ef2" fill-opacity="0.6"/>
<polygon points="198.5,572.0 208.3,572.0 203.4,581.9" fill="#1a5ef2" fill-opacity="0.6"/>
<circle cx="225.8" cy="578.2" r="3.85" fill="none" stroke="#1a5ef2" stroke-width="1.9" stroke-opacity="0.64"/>
<circle cx="246.7" cy="575.2" r="4.6" fill="#1a5ef2" fill-opacity="0.6"/>
<circle cx="230.3" cy="574.8" r="4.6" fill="#1a5ef2" fill-opacity="0.6"/>
<circle cx="231.4" cy="572.5" r="4.6" fill="#1a5ef2" fill-opacity="0.6"/>
<polygon points="218.9,574.3 225.7,574.3 222.3,581.2" fill="none" stroke="#1a5ef2" stroke-width="1.9" stroke-opacity="0.64"/>
<circle cx="233.2" cy="578.9" r="4.6" fill="#1a5ef2" fill-opacity="0.6"/>
<polygon points="202.2,575.9 212.0,575.9 207.1,585.8" fill="#1a5ef2" fill-opacity="0.6"/>
<circle cx="216.2" cy="579.6" r="4.6" fill="#1a5ef2" fill-opacity="0.6"/>
<circle cx="233.7" cy="576.7" r="4.6" fill="#1a5ef2" fill-opacity="0.6"/>
<circle cx="210.1" cy="579.0" r="4.6" fill="#1a5ef2" fill-opacity="0.6"/>
<polygon points="192.8,573.9 202.6,573.9 197.7,583.8" fill="#1a5ef2" fill-opacity="0.6"/>
<polygon points="216.7,571.7 226.5,571.7 221.6,581.6" fill="#1a5ef2" fill-opacity="0.6"/>
<circle cx="238.4" cy="574.3" r="4.6" fill="#1a5ef2" fill-opacity="0.6"/>
<polygon points="241.7,574.7 248.5,574.7 245.1,581.6" fill="none" stroke="#1a5ef2" stroke-width="1.9" stroke-opacity="0.64"/>
<circle cx="231.9" cy="576.5" r="4.6" fill="#1a5ef2" fill-opacity="0.6"/>
<circle cx="220.1" cy="577.7" r="4.6" fill="#1a5ef2" fill-opacity="0.6"/>
<polygon points="208.9,572.6 215.7,572.6 212.3,579.5" fill="none" stroke="#1a5ef2" stroke-width="1.9" stroke-opacity="0.64"/>
<polygon points="236.1,575.3 242.9,575.3 239.5,582.2" fill="none" stroke="#1a5ef2" stroke-width="1.9" stroke-opacity="0.64"/>
<polygon points="211.8,577.5 218.6,577.5 215.2,584.4" fill="none" stroke="#1a5ef2" stroke-width="1.9" stroke-opacity="0.64"/>
<circle cx="228.8" cy="573.9" r="4.6" fill="#1a5ef2" fill-opacity="0.6"/>
<polygon points="199.2,568.0 209.0,568.0 204.1,577.9" fill="#1a5ef2" fill-opacity="0.6"/>
<circle cx="213.7" cy="573.7" r="4.6" fill="#1a5ef2" fill-opacity="0.6"/>
<circle cx="207.8" cy="576.6" r="4.6" fill="#1a5ef2" fill-opacity="0.6"/>
<polygon points="221.3,573.9 228.1,573.9 224.7,580.8" fill="none" stroke="#1a5ef2" stroke-width="1.9" stroke-opacity="0.64"/>
<circle cx="240.0" cy="575.2" r="4.6" fill="#1a5ef2" fill-opacity="0.6"/>
<circle cx="236.6" cy="578.0" r="4.6" fill="#1a5ef2" fill-opacity="0.6"/>
<polygon points="230.5,572.6 240.3,572.6 235.4,582.5" fill="#1a5ef2" fill-opacity="0.6"/>
<circle cx="237.2" cy="577.2" r="4.6" fill="#1a5ef2" fill-opacity="0.6"/>
<circle cx="210.9" cy="578.9" r="4.6" fill="#1a5ef2" fill-opacity="0.6"/>
<polygon points="207.9,576.2 214.7,576.2 211.3,583.1" fill="none" stroke="#1a5ef2" stroke-width="1.9" stroke-opacity="0.64"/>
<polygon points="230.8,572.3 240.6,572.3 235.7,582.2" fill="#1a5ef2" fill-opacity="0.6"/>
<circle cx="228.2" cy="580.9" r="3.85" fill="none" stroke="#1a5ef2" stroke-width="1.9" stroke-opacity="0.64"/>
<circle cx="227.2" cy="578.0" r="3.85" fill="none" stroke="#1a5ef2" stroke-width="1.9" stroke-opacity="0.64"/>
<circle cx="221.4" cy="576.7" r="3.85" fill="none" stroke="#1a5ef2" stroke-width="1.9" stroke-opacity="0.64"/>
<polygon points="209.3,574.2 219.1,574.2 214.2,584.1" fill="#1a5ef2" fill-opacity="0.6"/>
<circle cx="229.4" cy="575.1" r="4.6" fill="#1a5ef2" fill-opacity="0.6"/>
<polygon points="243.7,572.1 253.5,572.1 248.6,582.0" fill="#1a5ef2" fill-opacity="0.6"/>
<circle cx="218.0" cy="576.2" r="3.85" fill="none" stroke="#1a5ef2" stroke-width="1.9" stroke-opacity="0.64"/>
<circle cx="270.0" cy="581.4" r="4.6" fill="#1a5ef2" fill-opacity="0.6"/>
<circle cx="276.2" cy="580.0" r="3.85" fill="none" stroke="#1a5ef2" stroke-width="1.9" stroke-opacity="0.64"/>
<polygon points="254.0,572.8 263.8,572.8 258.9,582.7" fill="#1a5ef2" fill-opacity="0.6"/>
<polygon points="261.6,572.5 271.4,572.5 266.5,582.4" fill="#1a5ef2" fill-opacity="0.6"/>
<polygon points="245.6,575.4 255.4,575.4 250.5,585.3" fill="#1a5ef2" fill-opacity="0.6"/>
<polygon points="276.3,571.5 283.1,571.5 279.7,578.4" fill="none" stroke="#1a5ef2" stroke-width="1.9" stroke-opacity="0.64"/>
<circle cx="257.0" cy="574.0" r="3.85" fill="none" stroke="#1a5ef2" stroke-width="1.9" stroke-opacity="0.64"/>
<circle cx="273.4" cy="576.2" r="4.6" fill="#1a5ef2" fill-opacity="0.6"/>
<circle cx="252.3" cy="578.6" r="4.6" fill="#1a5ef2" fill-opacity="0.6"/>
<circle cx="260.4" cy="580.1" r="4.6" fill="#1a5ef2" fill-opacity="0.6"/>
<circle cx="262.8" cy="573.9" r="3.85" fill="none" stroke="#1a5ef2" stroke-width="1.9" stroke-opacity="0.64"/>
<circle cx="254.7" cy="581.4" r="4.6" fill="#1a5ef2" fill-opacity="0.6"/>
<polygon points="260.4,571.9 270.2,571.9 265.3,581.8" fill="#1a5ef2" fill-opacity="0.6"/>
<circle cx="206.0" cy="463.0" r="3.85" fill="none" stroke="#78e000" stroke-width="1.9" stroke-opacity="0.64"/>
<circle cx="217.0" cy="464.2" r="4.6" fill="#78e000" fill-opacity="0.6"/>
<circle cx="219.0" cy="462.5" r="4.6" fill="#78e000" fill-opacity="0.6"/>
<circle cx="222.0" cy="460.6" r="3.85" fill="none" stroke="#78e000" stroke-width="1.9" stroke-opacity="0.64"/>
<circle cx="246.6" cy="466.6" r="4.6" fill="#78e000" fill-opacity="0.6"/>
<circle cx="249.0" cy="460.4" r="3.85" fill="none" stroke="#78e000" stroke-width="1.9" stroke-opacity="0.64"/>
<circle cx="260.0" cy="461.0" r="3.85" fill="none" stroke="#78e000" stroke-width="1.9" stroke-opacity="0.64"/>
<circle cx="264.0" cy="460.5" r="3.85" fill="none" stroke="#78e000" stroke-width="1.9" stroke-opacity="0.64"/>
<circle cx="265.0" cy="468.0" r="3.85" fill="none" stroke="#78e000" stroke-width="1.9" stroke-opacity="0.64"/>
<circle cx="271.0" cy="462.0" r="4.6" fill="#78e000" fill-opacity="0.6"/>
<circle cx="276.0" cy="467.0" r="4.6" fill="#78e000" fill-opacity="0.6"/>
<circle cx="372.4" cy="464.4" r="4.6" fill="#78e000" fill-opacity="0.6"/>
<circle cx="376.0" cy="463.0" r="4.6" fill="#78e000" fill-opacity="0.6"/>
<circle cx="386.0" cy="466.0" r="4.6" fill="#78e000" fill-opacity="0.6"/>
<circle cx="392.0" cy="462.0" r="4.6" fill="#78e000" fill-opacity="0.6"/>
<circle cx="378.0" cy="467.0" r="4.6" fill="#78e000" fill-opacity="0.6"/>
<circle cx="385.0" cy="461.5" r="4.6" fill="#78e000" fill-opacity="0.6"/>
<circle cx="381.0" cy="460.4" r="4.6" fill="#78e000" fill-opacity="0.6"/>
<circle cx="383.0" cy="468.0" r="4.6" fill="#78e000" fill-opacity="0.6"/>
<circle cx="389.0" cy="463.0" r="4.6" fill="#78e000" fill-opacity="0.6"/>
<circle cx="395.0" cy="467.0" r="4.6" fill="#78e000" fill-opacity="0.6"/>
<circle cx="399.0" cy="465.6" r="4.6" fill="#78e000" fill-opacity="0.6"/>
<circle cx="410.0" cy="460.6" r="4.6" fill="#78e000" fill-opacity="0.6"/>
<circle cx="341.2" cy="467.0" r="4.6" fill="#78e000" fill-opacity="0.6"/>
<circle cx="286.6" cy="465.6" r="3.85" fill="none" stroke="#78e000" stroke-width="1.9" stroke-opacity="0.64"/>
<circle cx="335.3" cy="468.5" r="4.6" fill="#78e000" fill-opacity="0.6"/>
<circle cx="283.9" cy="462.5" r="3.85" fill="none" stroke="#78e000" stroke-width="1.9" stroke-opacity="0.64"/>
<circle cx="332.8" cy="468.3" r="4.6" fill="#78e000" fill-opacity="0.6"/>
<circle cx="344.8" cy="465.8" r="4.6" fill="#78e000" fill-opacity="0.6"/>
<circle cx="366.2" cy="467.3" r="4.6" fill="#78e000" fill-opacity="0.6"/>
<circle cx="346.1" cy="464.0" r="4.6" fill="#78e000" fill-opacity="0.6"/>
<circle cx="291.7" cy="465.1" r="3.85" fill="none" stroke="#78e000" stroke-width="1.9" stroke-opacity="0.64"/>
<circle cx="296.4" cy="461.7" r="4.6" fill="#78e000" fill-opacity="0.6"/>
<circle cx="333.4" cy="460.0" r="4.6" fill="#78e000" fill-opacity="0.6"/>
<circle cx="337.8" cy="467.7" r="4.6" fill="#78e000" fill-opacity="0.6"/>
<circle cx="313.5" cy="469.0" r="3.85" fill="none" stroke="#78e000" stroke-width="1.9" stroke-opacity="0.64"/>
<circle cx="341.7" cy="467.5" r="4.6" fill="#78e000" fill-opacity="0.6"/>
<circle cx="361.9" cy="468.0" r="4.6" fill="#78e000" fill-opacity="0.6"/>
<circle cx="310.4" cy="468.7" r="4.6" fill="#78e000" fill-opacity="0.6"/>
<circle cx="297.8" cy="462.9" r="3.85" fill="none" stroke="#78e000" stroke-width="1.9" stroke-opacity="0.64"/>
<circle cx="336.6" cy="464.0" r="4.6" fill="#78e000" fill-opacity="0.6"/>
<circle cx="335.9" cy="464.3" r="4.6" fill="#78e000" fill-opacity="0.6"/>
<circle cx="334.2" cy="468.9" r="4.6" fill="#78e000" fill-opacity="0.6"/>
<circle cx="349.9" cy="464.7" r="4.6" fill="#78e000" fill-opacity="0.6"/>
<circle cx="348.4" cy="467.6" r="4.6" fill="#78e000" fill-opacity="0.6"/>
<circle cx="312.2" cy="463.8" r="4.6" fill="#78e000" fill-opacity="0.6"/>
<circle cx="340.5" cy="463.7" r="4.6" fill="#78e000" fill-opacity="0.6"/>
<circle cx="320.1" cy="461.7" r="3.85" fill="none" stroke="#78e000" stroke-width="1.9" stroke-opacity="0.64"/>
<circle cx="363.4" cy="463.6" r="4.6" fill="#78e000" fill-opacity="0.6"/>
<circle cx="280.8" cy="461.4" r="3.85" fill="none" stroke="#78e000" stroke-width="1.9" stroke-opacity="0.64"/>
<circle cx="343.7" cy="466.0" r="4.6" fill="#78e000" fill-opacity="0.6"/>
<circle cx="303.8" cy="462.3" r="3.85" fill="none" stroke="#78e000" stroke-width="1.9" stroke-opacity="0.64"/>
<circle cx="342.1" cy="463.7" r="4.6" fill="#78e000" fill-opacity="0.6"/>
<circle cx="349.4" cy="464.7" r="4.6" fill="#78e000" fill-opacity="0.6"/>
<circle cx="325.7" cy="465.0" r="4.6" fill="#78e000" fill-opacity="0.6"/>
<circle cx="301.8" cy="464.5" r="3.85" fill="none" stroke="#78e000" stroke-width="1.9" stroke-opacity="0.64"/>
<circle cx="364.4" cy="462.6" r="4.6" fill="#78e000" fill-opacity="0.6"/>
<circle cx="353.0" cy="461.0" r="4.6" fill="#78e000" fill-opacity="0.6"/>
<circle cx="338.4" cy="464.5" r="4.6" fill="#78e000" fill-opacity="0.6"/>
<circle cx="339.4" cy="460.0" r="4.6" fill="#78e000" fill-opacity="0.6"/>
<circle cx="294.2" cy="463.6" r="3.85" fill="none" stroke="#78e000" stroke-width="1.9" stroke-opacity="0.64"/>
<circle cx="315.3" cy="466.6" r="4.6" fill="#78e000" fill-opacity="0.6"/>
<circle cx="304.5" cy="462.9" r="3.85" fill="none" stroke="#78e000" stroke-width="1.9" stroke-opacity="0.64"/>
<circle cx="327.9" cy="462.6" r="4.6" fill="#78e000" fill-opacity="0.6"/>
<circle cx="361.3" cy="469.0" r="4.6" fill="#78e000" fill-opacity="0.6"/>
<circle cx="342.7" cy="460.4" r="4.6" fill="#78e000" fill-opacity="0.6"/>
<circle cx="349.0" cy="466.6" r="4.6" fill="#78e000" fill-opacity="0.6"/>
<circle cx="340.0" cy="463.4" r="4.6" fill="#78e000" fill-opacity="0.6"/>
<circle cx="337.0" cy="464.6" r="4.6" fill="#78e000" fill-opacity="0.6"/>
<circle cx="300.5" cy="461.5" r="3.85" fill="none" stroke="#78e000" stroke-width="1.9" stroke-opacity="0.64"/>
<circle cx="317.2" cy="464.0" r="4.6" fill="#78e000" fill-opacity="0.6"/>
<circle cx="354.7" cy="464.8" r="4.6" fill="#78e000" fill-opacity="0.6"/>
<circle cx="322.7" cy="466.0" r="4.6" fill="#78e000" fill-opacity="0.6"/>
<circle cx="357.5" cy="466.4" r="4.6" fill="#78e000" fill-opacity="0.6"/>
<circle cx="287.9" cy="460.8" r="4.6" fill="#78e000" fill-opacity="0.6"/>
<circle cx="323.3" cy="468.5" r="4.6" fill="#78e000" fill-opacity="0.6"/>
<circle cx="359.4" cy="466.9" r="4.6" fill="#78e000" fill-opacity="0.6"/>
<circle cx="359.9" cy="463.8" r="4.6" fill="#78e000" fill-opacity="0.6"/>
<circle cx="324.8" cy="464.2" r="4.6" fill="#78e000" fill-opacity="0.6"/>
<circle cx="366.9" cy="462.2" r="4.6" fill="#78e000" fill-opacity="0.6"/>
<circle cx="308.9" cy="462.1" r="4.6" fill="#78e000" fill-opacity="0.6"/>
<circle cx="350.7" cy="466.4" r="4.6" fill="#78e000" fill-opacity="0.6"/>
<circle cx="329.9" cy="465.8" r="4.6" fill="#78e000" fill-opacity="0.6"/>
<circle cx="343.0" cy="464.2" r="4.6" fill="#78e000" fill-opacity="0.6"/>
<circle cx="352.5" cy="469.0" r="4.6" fill="#78e000" fill-opacity="0.6"/>
<circle cx="338.9" cy="466.7" r="4.6" fill="#78e000" fill-opacity="0.6"/>
<circle cx="346.6" cy="464.5" r="4.6" fill="#78e000" fill-opacity="0.6"/>
<circle cx="347.4" cy="464.7" r="4.6" fill="#78e000" fill-opacity="0.6"/>
<circle cx="344.3" cy="467.8" r="4.6" fill="#78e000" fill-opacity="0.6"/>
<circle cx="369.6" cy="461.2" r="4.6" fill="#78e000" fill-opacity="0.6"/>
<circle cx="348.1" cy="466.6" r="4.6" fill="#78e000" fill-opacity="0.6"/>
<circle cx="331.0" cy="467.4" r="4.6" fill="#78e000" fill-opacity="0.6"/>
<circle cx="351.8" cy="461.9" r="4.6" fill="#78e000" fill-opacity="0.6"/>
<circle cx="320.8" cy="462.2" r="4.6" fill="#78e000" fill-opacity="0.6"/>
<circle cx="298.8" cy="465.7" r="4.6" fill="#78e000" fill-opacity="0.6"/>
<circle cx="328.5" cy="464.0" r="4.6" fill="#78e000" fill-opacity="0.6"/>
<circle cx="345.8" cy="462.0" r="4.6" fill="#78e000" fill-opacity="0.6"/>
<circle cx="292.7" cy="463.1" r="3.85" fill="none" stroke="#78e000" stroke-width="1.9" stroke-opacity="0.64"/>
<circle cx="345.4" cy="469.0" r="4.6" fill="#78e000" fill-opacity="0.6"/>
<circle cx="282.3" cy="465.9" r="3.85" fill="none" stroke="#78e000" stroke-width="1.9" stroke-opacity="0.64"/>
<circle cx="305.7" cy="468.9" r="4.6" fill="#78e000" fill-opacity="0.6"/>
<circle cx="351.2" cy="464.0" r="4.6" fill="#78e000" fill-opacity="0.6"/>
<circle cx="356.0" cy="469.0" r="4.6" fill="#78e000" fill-opacity="0.6"/>
<circle cx="332.2" cy="460.1" r="4.6" fill="#78e000" fill-opacity="0.6"/>
<circle cx="326.7" cy="460.8" r="4.6" fill="#78e000" fill-opacity="0.6"/>
<circle cx="334.8" cy="467.9" r="4.6" fill="#78e000" fill-opacity="0.6"/>
<circle cx="308.1" cy="465.8" r="3.85" fill="none" stroke="#78e000" stroke-width="1.9" stroke-opacity="0.64"/>
<circle cx="354.0" cy="468.1" r="4.6" fill="#78e000" fill-opacity="0.6"/>
<circle cx="295.0" cy="465.0" r="4.6" fill="#78e000" fill-opacity="0.6"/>
<circle cx="318.3" cy="465.7" r="4.6" fill="#78e000" fill-opacity="0.6"/>
<circle cx="358.5" cy="467.2" r="4.6" fill="#78e000" fill-opacity="0.6"/>
<circle cx="356.8" cy="465.3" r="4.6" fill="#78e000" fill-opacity="0.6"/>
<circle cx="355.0" cy="465.2" r="4.6" fill="#78e000" fill-opacity="0.6"/>
<circle cx="289.7" cy="462.6" r="4.6" fill="#78e000" fill-opacity="0.6"/>
<circle cx="330.6" cy="461.8" r="4.6" fill="#78e000" fill-opacity="0.6"/>
<circle cx="347.0" cy="358.6" r="4.6" fill="#f73010" fill-opacity="0.6"/>
<circle cx="347.5" cy="358.2" r="3.85" fill="none" stroke="#f73010" stroke-width="1.9" stroke-opacity="0.64"/>
<circle cx="351.0" cy="363.0" r="4.6" fill="#f73010" fill-opacity="0.6"/>
<circle cx="364.0" cy="364.0" r="4.6" fill="#f73010" fill-opacity="0.6"/>
<circle cx="369.0" cy="362.0" r="3.85" fill="none" stroke="#f73010" stroke-width="1.9" stroke-opacity="0.64"/>
<circle cx="372.0" cy="360.0" r="3.85" fill="none" stroke="#f73010" stroke-width="1.9" stroke-opacity="0.64"/>
<circle cx="375.0" cy="363.0" r="3.85" fill="none" stroke="#f73010" stroke-width="1.9" stroke-opacity="0.64"/>
<circle cx="381.0" cy="358.0" r="3.85" fill="none" stroke="#f73010" stroke-width="1.9" stroke-opacity="0.64"/>
<circle cx="383.0" cy="361.0" r="3.85" fill="none" stroke="#f73010" stroke-width="1.9" stroke-opacity="0.64"/>
<circle cx="386.0" cy="363.5" r="3.85" fill="none" stroke="#f73010" stroke-width="1.9" stroke-opacity="0.64"/>
<circle cx="390.0" cy="360.0" r="3.85" fill="none" stroke="#f73010" stroke-width="1.9" stroke-opacity="0.64"/>
<circle cx="393.0" cy="359.0" r="3.85" fill="none" stroke="#f73010" stroke-width="1.9" stroke-opacity="0.64"/>
<circle cx="395.0" cy="364.0" r="3.85" fill="none" stroke="#f73010" stroke-width="1.9" stroke-opacity="0.64"/>
<circle cx="378.0" cy="362.0" r="4.6" fill="#f73010" fill-opacity="0.6"/>
<circle cx="405.0" cy="361.0" r="4.6" fill="#f73010" fill-opacity="0.6"/>
<circle cx="409.0" cy="364.0" r="4.6" fill="#f73010" fill-opacity="0.6"/>
<circle cx="400.0" cy="362.0" r="3.85" fill="none" stroke="#f73010" stroke-width="1.9" stroke-opacity="0.64"/>
<circle cx="414.0" cy="362.0" r="4.6" fill="#f73010" fill-opacity="0.6"/>
<circle cx="418.0" cy="363.0" r="4.6" fill="#f73010" fill-opacity="0.6"/>
<circle cx="421.0" cy="360.6" r="4.6" fill="#f73010" fill-opacity="0.6"/>
<circle cx="457.6" cy="359.3" r="4.6" fill="#f73010" fill-opacity="0.6"/>
<circle cx="467.0" cy="359.2" r="4.6" fill="#f73010" fill-opacity="0.6"/>
<circle cx="444.9" cy="362.9" r="4.6" fill="#f73010" fill-opacity="0.6"/>
<circle cx="441.5" cy="360.6" r="4.6" fill="#f73010" fill-opacity="0.6"/>
<circle cx="434.4" cy="361.8" r="4.6" fill="#f73010" fill-opacity="0.6"/>
<circle cx="438.8" cy="361.4" r="4.6" fill="#f73010" fill-opacity="0.6"/>
<circle cx="432.4" cy="356.5" r="4.6" fill="#f73010" fill-opacity="0.6"/>
<circle cx="439.7" cy="360.8" r="4.6" fill="#f73010" fill-opacity="0.6"/>
<circle cx="442.6" cy="358.9" r="4.6" fill="#f73010" fill-opacity="0.6"/>
<circle cx="436.5" cy="361.4" r="4.6" fill="#f73010" fill-opacity="0.6"/>
<circle cx="444.1" cy="357.5" r="4.6" fill="#f73010" fill-opacity="0.6"/>
<circle cx="446.4" cy="362.6" r="4.6" fill="#f73010" fill-opacity="0.6"/>
<circle cx="435.0" cy="358.7" r="4.6" fill="#f73010" fill-opacity="0.6"/>
<circle cx="426.6" cy="356.8" r="4.6" fill="#f73010" fill-opacity="0.6"/>
<circle cx="443.1" cy="363.0" r="4.6" fill="#f73010" fill-opacity="0.6"/>
<circle cx="432.1" cy="357.5" r="4.6" fill="#f73010" fill-opacity="0.6"/>
<circle cx="433.4" cy="364.5" r="4.6" fill="#f73010" fill-opacity="0.6"/>
<circle cx="445.4" cy="364.3" r="4.6" fill="#f73010" fill-opacity="0.6"/>
<circle cx="426.1" cy="359.8" r="4.6" fill="#f73010" fill-opacity="0.6"/>
<circle cx="431.4" cy="364.1" r="4.6" fill="#f73010" fill-opacity="0.6"/>
<circle cx="447.7" cy="357.7" r="4.6" fill="#f73010" fill-opacity="0.6"/>
<circle cx="435.9" cy="363.9" r="4.6" fill="#f73010" fill-opacity="0.6"/>
<circle cx="431.0" cy="361.4" r="4.6" fill="#f73010" fill-opacity="0.6"/>
<circle cx="429.1" cy="362.7" r="4.6" fill="#f73010" fill-opacity="0.6"/>
<circle cx="435.5" cy="360.8" r="4.6" fill="#f73010" fill-opacity="0.6"/>
<circle cx="447.2" cy="362.3" r="4.6" fill="#f73010" fill-opacity="0.6"/>
<circle cx="443.9" cy="363.4" r="4.6" fill="#f73010" fill-opacity="0.6"/>
<circle cx="436.9" cy="358.4" r="4.6" fill="#f73010" fill-opacity="0.6"/>
<circle cx="430.3" cy="359.5" r="4.6" fill="#f73010" fill-opacity="0.6"/>
<circle cx="437.4" cy="363.2" r="4.6" fill="#f73010" fill-opacity="0.6"/>
<circle cx="438.4" cy="364.0" r="4.6" fill="#f73010" fill-opacity="0.6"/>
<circle cx="424.5" cy="360.6" r="4.6" fill="#f73010" fill-opacity="0.6"/>
<circle cx="427.7" cy="361.3" r="4.6" fill="#f73010" fill-opacity="0.6"/>
<circle cx="442.2" cy="365.2" r="4.6" fill="#f73010" fill-opacity="0.6"/>
<circle cx="429.9" cy="356.2" r="4.6" fill="#f73010" fill-opacity="0.6"/>
<circle cx="441.1" cy="356.2" r="4.6" fill="#f73010" fill-opacity="0.6"/>
<circle cx="439.2" cy="363.2" r="4.6" fill="#f73010" fill-opacity="0.6"/>
<circle cx="434.1" cy="362.6" r="4.6" fill="#f73010" fill-opacity="0.6"/>
<circle cx="437.8" cy="362.9" r="4.6" fill="#f73010" fill-opacity="0.6"/>
<circle cx="440.3" cy="356.2" r="4.6" fill="#f73010" fill-opacity="0.6"/>
<circle cx="440.6" cy="361.4" r="4.6" fill="#f73010" fill-opacity="0.6"/>
<circle cx="428.4" cy="360.4" r="4.6" fill="#f73010" fill-opacity="0.6"/>
<circle cx="433.1" cy="360.4" r="4.6" fill="#f73010" fill-opacity="0.6"/>
<circle cx="425.3" cy="362.1" r="4.6" fill="#f73010" fill-opacity="0.6"/>
<circle cx="427.1" cy="363.4" r="4.6" fill="#f73010" fill-opacity="0.6"/>
<circle cx="446.0" cy="365.2" r="4.6" fill="#f73010" fill-opacity="0.6"/>
</g>
<line x1="62.6" y1="746.7" x2="560.6" y2="248.7" stroke="#000" stroke-width="2.1" stroke-dasharray="6.3 2.539"/>
<rect x="62.6" y="248.7" width="498.0" height="498.0" fill="none" stroke="#333" stroke-width="1"/>
<line x1="62.60" y1="746.7" x2="62.60" y2="750.7" stroke="#333" stroke-width="1"/>
<line x1="58.6" y1="746.70" x2="62.6" y2="746.70" stroke="#333" stroke-width="1"/>
<line x1="145.60" y1="746.7" x2="145.60" y2="750.7" stroke="#333" stroke-width="1"/>
<line x1="58.6" y1="663.70" x2="62.6" y2="663.70" stroke="#333" stroke-width="1"/>
<line x1="228.60" y1="746.7" x2="228.60" y2="750.7" stroke="#333" stroke-width="1"/>
<line x1="58.6" y1="580.70" x2="62.6" y2="580.70" stroke="#333" stroke-width="1"/>
<line x1="311.60" y1="746.7" x2="311.60" y2="750.7" stroke="#333" stroke-width="1"/>
<line x1="58.6" y1="497.70" x2="62.6" y2="497.70" stroke="#333" stroke-width="1"/>
<line x1="394.60" y1="746.7" x2="394.60" y2="750.7" stroke="#333" stroke-width="1"/>
<line x1="58.6" y1="414.70" x2="62.6" y2="414.70" stroke="#333" stroke-width="1"/>
<line x1="477.60" y1="746.7" x2="477.60" y2="750.7" stroke="#333" stroke-width="1"/>
<line x1="58.6" y1="331.70" x2="62.6" y2="331.70" stroke="#333" stroke-width="1"/>
<line x1="560.60" y1="746.7" x2="560.60" y2="750.7" stroke="#333" stroke-width="1"/>
<line x1="58.6" y1="248.70" x2="62.6" y2="248.70" stroke="#333" stroke-width="1"/>
<rect x="199.8" y="619.3" width="355.8" height="120.6" rx="13" ry="13" fill="#fff" stroke="#c4c4c4" stroke-width="1.7"/>
<circle cx="218.8" cy="675.1" r="6.35" fill="none" stroke="#1a5ef2" stroke-width="2"/>
<polygon points="213.2,685.9 224.4,685.9 218.8,695.9" fill="#1a5ef2" fill-opacity="0" stroke="#1a5ef2" stroke-width="2"/>
<polygon points="213.2,701.9 224.4,701.9 218.8,711.9" fill="#1a5ef2" fill-opacity="0.5" stroke="#1a5ef2" stroke-width="2"/>
<circle cx="218.8" cy="723.3" r="6.35" fill="#1a5ef2" fill-opacity="0.5" stroke="#1a5ef2" stroke-width="2"/>
<circle cx="242.9" cy="675.1" r="6.35" fill="none" stroke="#78e000" stroke-width="2"/>
<polygon points="237.3,685.9 248.5,685.9 242.9,695.9" fill="#78e000" fill-opacity="0" stroke="#78e000" stroke-width="2"/>
<polygon points="237.3,701.9 248.5,701.9 242.9,711.9" fill="#78e000" fill-opacity="0.5" stroke="#78e000" stroke-width="2"/>
<circle cx="242.9" cy="723.3" r="6.35" fill="#78e000" fill-opacity="0.5" stroke="#78e000" stroke-width="2"/>
<circle cx="267.0" cy="675.1" r="6.35" fill="none" stroke="#f73010" stroke-width="2"/>
<polygon points="261.4,685.9 272.6,685.9 267.0,695.9" fill="#f73010" fill-opacity="0" stroke="#f73010" stroke-width="2"/>
<polygon points="261.4,701.9 272.6,701.9 267.0,711.9" fill="#f73010" fill-opacity="0.5" stroke="#f73010" stroke-width="2"/>
<circle cx="267.0" cy="723.3" r="6.35" fill="#f73010" fill-opacity="0.5" stroke="#f73010" stroke-width="2"/>
<text x="283.8" y="680.4" font-family="DejaVu Sans, sans-serif" font-size="14.2" fill="#000" stroke="#000" stroke-width="0.3">O-O bond</text>
<text x="283.8" y="696.1" font-family="DejaVu Sans, sans-serif" font-size="14.2" fill="#000" stroke="#000" stroke-width="0.3">Graph changed during conformation</text>
<text x="283.8" y="711.8" font-family="DejaVu Sans, sans-serif" font-size="14.2" fill="#000" stroke="#000" stroke-width="0.3">Graph changed during relaxation</text>
<text x="283.8" y="727.5" font-family="DejaVu Sans, sans-serif" font-size="14.2" fill="#000" stroke="#000" stroke-width="0.3">Unchanged graph, no O-O bond</text>
<text transform="translate(218.6 663.3) rotate(-45)" font-family="DejaVu Sans, sans-serif" font-size="13.5" letter-spacing="-0.1" fill="#000" stroke="#000" stroke-width="0.25">4.1 eV</text>
<text transform="translate(242.7 663.3) rotate(-45)" font-family="DejaVu Sans, sans-serif" font-size="13.5" letter-spacing="-0.1" fill="#000" stroke="#000" stroke-width="0.25">6.8 eV</text>
<text transform="translate(266.8 663.3) rotate(-45)" font-family="DejaVu Sans, sans-serif" font-size="13.5" letter-spacing="-0.1" fill="#000" stroke="#000" stroke-width="0.25">9.3 eV</text>
<text x="62.3" y="773.7" text-anchor="middle" font-family="Liberation Serif, serif" font-size="26.5" fill="#000">0</text>
<text x="55.2" y="757.1" text-anchor="end" font-family="Liberation Serif, serif" font-size="26.5" fill="#000">0</text>
<text x="145.3" y="773.7" text-anchor="middle" font-family="Liberation Serif, serif" font-size="26.5" fill="#000">2</text>
<text x="55.2" y="674.1" text-anchor="end" font-family="Liberation Serif, serif" font-size="26.5" fill="#000">2</text>
<text x="228.3" y="773.7" text-anchor="middle" font-family="Liberation Serif, serif" font-size="26.5" fill="#000">4</text>
<text x="55.2" y="591.1" text-anchor="end" font-family="Liberation Serif, serif" font-size="26.5" fill="#000">4</text>
<text x="311.3" y="773.7" text-anchor="middle" font-family="Liberation Serif, serif" font-size="26.5" fill="#000">6</text>
<text x="55.2" y="508.1" text-anchor="end" font-family="Liberation Serif, serif" font-size="26.5" fill="#000">6</text>
<text x="394.3" y="773.7" text-anchor="middle" font-family="Liberation Serif, serif" font-size="26.5" fill="#000">8</text>
<text x="55.2" y="425.1" text-anchor="end" font-family="Liberation Serif, serif" font-size="26.5" fill="#000">8</text>
<text x="477.3" y="773.7" text-anchor="middle" font-family="Liberation Serif, serif" font-size="26.5" fill="#000">10</text>
<text x="55.2" y="342.1" text-anchor="end" font-family="Liberation Serif, serif" font-size="26.5" fill="#000">10</text>
<text x="560.3" y="773.7" text-anchor="middle" font-family="Liberation Serif, serif" font-size="26.5" fill="#000">12</text>
<text x="55.2" y="259.1" text-anchor="end" font-family="Liberation Serif, serif" font-size="26.5" fill="#000">12</text>
<text x="311.6" y="803.3" text-anchor="middle" font-family="Liberation Sans, sans-serif" font-size="26.95" fill="#000">DFT Predicted Energy Gap (eV)</text>
<text transform="translate(20.2 497.4) rotate(-90)" text-anchor="middle" font-family="Liberation Sans, sans-serif" font-size="26.95" fill="#000">Proxy Predicted Energy Gap (eV)</text>
</svg>
</body></html>
